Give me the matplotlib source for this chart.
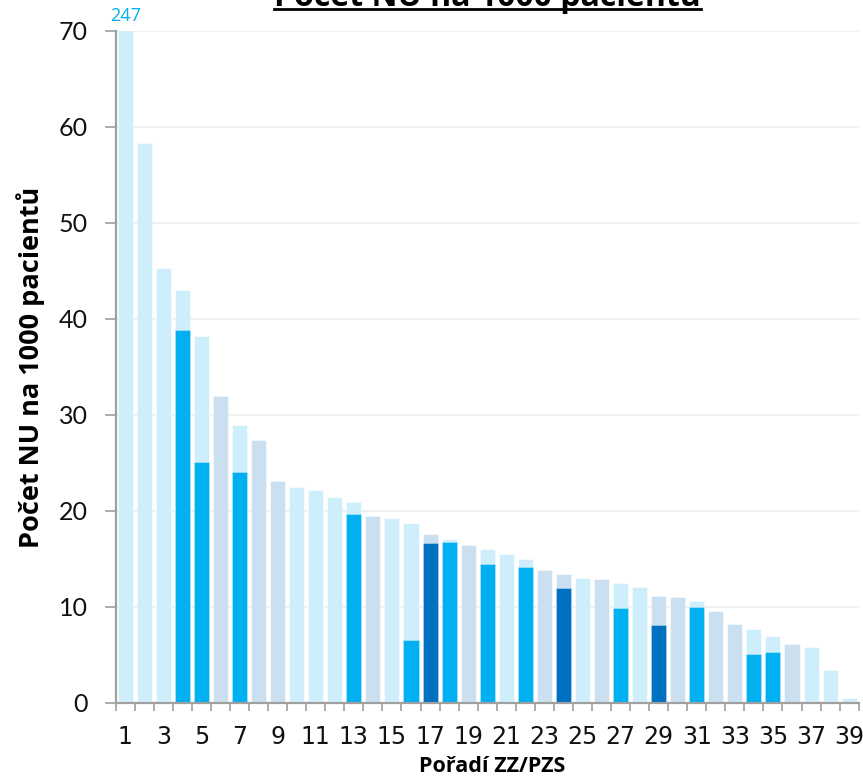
import matplotlib
matplotlib.use("Agg")
import matplotlib.pyplot as plt
from matplotlib.ticker import MultipleLocator, FixedLocator, NullFormatter

# Rank of the provider (ZZ/PZS)
ranks = list(range(1, 40))

# Total adverse events per 1000 patients for each ranked provider
totals = [247, 58.3, 45.3, 43.0, 38.2, 32.0, 28.9, 27.4, 23.1, 22.5,
          22.2, 21.5, 20.9, 19.5, 19.3, 18.7, 17.6, 17.1, 16.5, 16.0,
          15.5, 15.0, 13.9, 13.4, 13.0, 12.9, 12.5, 12.1, 11.1, 11.0,
          10.6, 9.6, 8.2, 7.7, 7.0, 6.1, 5.8, 3.4, 0.5]

# Background group of each provider: "c" = light cyan, "g" = light grey-blue
groups = list("ccccc" "gcggc" "cccgc" "cgcgc" "ccggc" "gccgg" "cggcc" "gcc" "c")

# Highlighted part of the bar (None = no highlight) and its kind
highlight = [None, None, None, 38.8, 25.1, None, 24.1, None, None, None,
             None, None, 19.7, None, None, 6.6, 16.7, 16.8, None, 14.5,
             None, 14.2, None, 12.0, None, None, 9.9, None, 8.1, None,
             9.95, None, None, 5.1, 5.3, None, None, None, None]
highlight_kind = ["", "", "", "b", "b", "", "b", "", "", "",
                  "", "", "b", "", "", "b", "d", "b", "", "b",
                  "", "b", "", "d", "", "", "b", "", "d", "",
                  "b", "", "", "b", "b", "", "", "", ""]

y_max = 70
title = "Počet NU na 1000 pacientů"
ylabel = "Počet NU na 1000 pacientů"
xlabel = "Pořadí ZZ/PZS"

bg_colors = {"c": "#cdeefa", "g": "#cadff0"}
hl_colors = {"b": "#00b0f0", "d": "#0070c0"}

W, H = 863, 780
fig = plt.figure(figsize=(W / 100, H / 100), dpi=100)
ax = fig.add_axes([115.7 / W, 1 - 703.0 / H, 743.0 / W, 672.2 / H])

width = 0.79
ax.bar(ranks, totals, width=width,
       color=[bg_colors[g] for g in groups],
       edgecolor=(1, 1, 1, 0.6), linewidth=0.6, zorder=2)

hx = [r for r, h in zip(ranks, highlight) if h is not None]
hv = [h for h in highlight if h is not None]
hc = [hl_colors[k] for k, h in zip(highlight_kind, highlight) if h is not None]
ax.bar(hx, hv, width=width, color=hc,
       edgecolor=(1, 1, 1, 0.35), linewidth=0.6, zorder=3)

# Value of the clipped first bar
ax.annotate(f"{totals[0]:g}", xy=(ranks[0], y_max), xytext=(0, 4.5),
            textcoords="offset points", ha="center", va="bottom",
            color="#00b0f0", fontsize=13, fontfamily="Open Sans",
            annotation_clip=False)

ax.set_xlim(0.5, 39.5)
ax.set_ylim(0, y_max)

# Grid drawn over the bars, faint
ax.yaxis.set_major_locator(MultipleLocator(10))
ax.grid(axis="y", color="#000000", alpha=0.06, linewidth=1.4)
for line in ax.get_ygridlines():
    line.set_zorder(4)

# X: labels on odd ranks, tick marks at category boundaries
ax.xaxis.set_major_locator(FixedLocator(ranks[::2]))
ax.xaxis.set_minor_locator(FixedLocator([r + 0.5 for r in range(0, 40)]))
ax.xaxis.set_minor_formatter(NullFormatter())
ax.tick_params(axis="x", which="major", length=0, pad=16, labelsize=17,
               labelcolor="#111111")
ax.tick_params(axis="x", which="minor", length=6, width=1.2, color="#a0a0a0")
ax.tick_params(axis="y", which="major", length=8, width=1.2, color="#a0a0a0",
               labelsize=18, pad=12, labelcolor="#111111")
for lab in ax.get_xticklabels():
    lab.set_fontfamily("Liberation Sans Narrow")
for lab in ax.get_yticklabels():
    lab.set_fontfamily("Lato")

for side in ("top", "right"):
    ax.spines[side].set_visible(False)
for side in ("left", "bottom"):
    ax.spines[side].set_color("#a0a0a0")
    ax.spines[side].set_linewidth(1.6)
    ax.spines[side].set_zorder(5)

ax.set_ylabel(ylabel, fontsize=19.5, fontweight="bold", fontfamily="Open Sans",
              labelpad=10)
ax.set_xlabel(xlabel, fontsize=15.5, fontweight="bold", fontfamily="Open Sans",
              labelpad=5)
ax.xaxis.set_label_coords(0.5 + 5 / 743.0, -64 / 672.2)
ax.xaxis.label.set_va("center")

# Underlined title, partly above the top edge
t = fig.text(487.5 / W, 1 - 6.5 / H, title, ha="center", va="baseline",
             fontsize=23, fontweight="bold", fontfamily="Open Sans")
fig.canvas.draw()
bb = t.get_window_extent()
uy = 1 - 8.7 / H
fig.add_artist(plt.Line2D([bb.x0 / W, bb.x1 / W], [uy, uy],
                          transform=fig.transFigure,
                          color="black", linewidth=2.0))

fig.savefig("out.png", dpi=100)
